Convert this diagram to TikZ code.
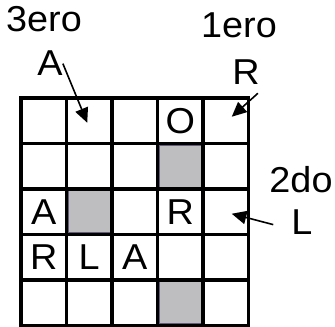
\documentclass[tikz,border=0pt]{standalone}
\usepackage{fontspec}
\setmainfont{Liberation Sans}[FakeStretch=1.05]
\usetikzlibrary{arrows.meta}
\definecolor{cellgray}{RGB}{190,190,192}
\definecolor{celledge}{RGB}{100,92,122}
\tikzset{
  letter/.style={font=\fontsize{27}{32}\selectfont, inner sep=0pt},
  pointer/.style={-{Triangle[length=11pt,width=10pt]}, line width=1.2pt},
  gridline/.style={line width=2.7pt, line cap=rect}
}

\begin{document}
\begin{tikzpicture}[x=0.75pt, y=-0.75pt]
  \useasboundingbox (0,0) rectangle (335,327);

  %% cell centres
  \foreach \r in {1,...,5}
    \foreach \c in {1,...,5}
      \coordinate (c-\r-\c) at ({21+45.5*(\c-0.5)}, {98+45.5*(\r-0.5)});

  %% shaded cells
  \foreach \r/\c in {2/4, 3/2, 5/4}
    \filldraw[fill=cellgray, draw=celledge, line width=0.6pt]
      ([shift={(-21,-21)}]c-\r-\c) rectangle ([shift={(21,21)}]c-\r-\c);

  %% grid
  \foreach \i in {0,...,5} {
    \draw[gridline] ({21+45.5*\i}, 98) -- ({21+45.5*\i}, 325.5);
    \draw[gridline] (21, {98+45.5*\i}) -- (248.5, {98+45.5*\i});
  }

  %% letters in the grid
  \node[letter] (gO)  at (c-1-4) {O};
  \node[letter] (gA1) at (c-3-1) {A};
  \node[letter] (gR1) at (c-3-4) {R};
  \node[letter] (gR2) at (c-4-1) {R};
  \node[letter] (gL)  at (c-4-2) {L};
  \node[letter] (gA2) at (c-4-3) {A};

  %% labels outside
  \node[letter, anchor=base] (ord3) at (44,32)   {3ero};
  \node[letter, anchor=base] (lblA) at (50,76)   {A};
  \node[letter, anchor=base] (ord1) at (239,38)  {1ero};
  \node[letter, anchor=base] (lblR) at (246,85)  {R};
  \node[letter, anchor=base] (ord2) at (301,193) {2do};
  \node[letter, anchor=base] (lblL) at (302,235) {L};

  %% pointers
  \draw[pointer] (lblA.east) -- ([shift={(-2,2)}]c-1-2);
  \draw[pointer] ([shift={(-2,8)}]lblR.south east) -- ([shift={(6,-4)}]c-1-5);
  \draw[pointer] ([shift={(-18,2)}]lblL.west) -- ([shift={(6,2)}]c-3-5);
\end{tikzpicture}
\end{document}
